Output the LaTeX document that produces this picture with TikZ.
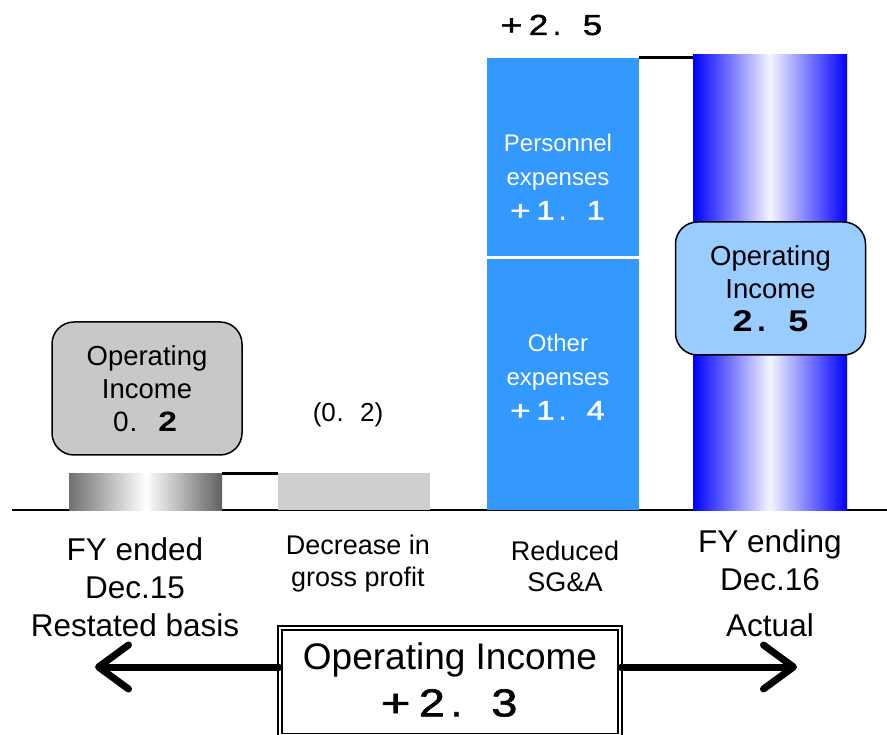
\documentclass[tikz,border=0pt]{standalone}
\usepackage{fontspec}
\setmainfont{Liberation Sans}
\newfontfamily\dig[FakeBold=1.5]{Liberation Sans}
\usetikzlibrary{arrows.meta}
\definecolor{barblue}{HTML}{3399FF}
\definecolor{boxblue}{HTML}{99CCFF}
\definecolor{boxgray}{HTML}{C8C8C8}
\definecolor{bargray}{HTML}{D0CECE}
\newcommand\fsz[2]{\fontsize{#1}{#2}\selectfont}
\newcommand\fwc[1]{\makebox[0.93em][c]{\scalebox{1.2}[1]{#1}}}
\newcommand\fwplus{\makebox[0.93em][c]{\scalebox{1.3}[1]{+}}}
\newcommand\fwp{\makebox[0.93em][l]{\hspace{0.03em}.}}
\begin{document}
\begin{tikzpicture}[x=1pt,y=-1pt,
  bar/.style={inner sep=0pt, outer sep=0pt, draw=none},
  obox/.style={draw=black, line width=1.5pt, rounded corners=22pt, minimum width=190pt, minimum height=133pt, align=center, inner sep=0pt, font=\fsz{27.5}{33}},
  lbl/.style={align=center, inner sep=0pt, text=black},
  link/.style={line width=3pt},
  bigarrow/.style={line width=7pt, line cap=round, -{Straight Barb[length=30pt,width=44pt,round]}}
]
\useasboundingbox (0,0) rectangle (887,735);
% baseline
\coordinate (axL) at (12,510);
\coordinate (axR) at (887,510);
\draw[line width=2pt] (axL) -- (axR);
% bars
\node[bar, minimum width=153pt, minimum height=37pt, left color=black!56, right color=black!62, middle color=white] (b1) at (145.5,491.5) {};
\node[bar, fill=bargray, minimum width=152pt, minimum height=37pt] (b2) at (354,491.5) {};
\node[bar, fill=barblue, minimum width=152pt, minimum height=198pt] (b3a) at (563,157) {};
\node[bar, fill=barblue, minimum width=152pt, minimum height=251pt] (b3b) at (563,384.5) {};
\node[bar, minimum width=154pt, minimum height=455pt, left color=blue, right color=blue, middle color=blue!4] (b4) at (770,282.5) {};
% links
\draw[link] (b1.north east) -- (b2.north west);
\draw[link] (b3a.north east) -- (b3a.north east -| b4.west);
% boxes
\node[obox, fill=boxgray] (g) at (147,388.5) {Operating\\Income\\{\fsz{28}{33}0\fwp\textbf{\fwc{2}}}};
\node[obox, fill=boxblue] (bb) at (770.5,288.5) {Operating\\Income\\{\bfseries\fsz{30}{33}\fwc{2}\fwp\fwc{5}}};
% texts on bars
\node[lbl, text=white, font=\fsz{24}{34}] (pe) at (558,177) {Personnel\\expenses\\{\dig\fsz{27}{34}\fwplus\fwc{1}\fwp\fwc{1}}};
\node[lbl, text=white, font=\fsz{24}{34}] (oe) at (558,377) {Other\\expenses\\{\dig\fsz{27}{34}\fwplus\fwc{1}\fwp\fwc{4}}};
\node[lbl, font=\dig\fsz{29}{30}] (top) at (552,25) {\fwplus\fwc{2}\fwp\fwc{5}};
\node[lbl, font=\fsz{26}{28}] (dec) at (348,415) {(0\fwp 2)};
% labels
\node[lbl, anchor=base, font=\fsz{31.5}{38}] (l1) at (135,636) {FY ended\\Dec.15\\Restated basis};
\node[lbl, anchor=base, font=\fsz{27}{32}] (l2) at (358,586) {Decrease in\\gross profit};
\node[lbl, anchor=base, font=\fsz{27}{31}] (l3) at (565,591) {Reduced\\SG\&A};
\node[lbl, anchor=base, font=\fsz{31.5}{38}] (l4) at (770,636) {FY ending\\Dec.16\\[8pt]Actual};
% total box
\node[draw=black, line width=1.5pt, double=white, double distance=2.5pt, minimum width=340pt, minimum height=107.5pt, inner sep=0pt] (total) at (450,681.75) {};
\node[lbl, font=\fsz{37}{40}] (t1) at (450,660) {Operating Income};
\node[lbl, font=\dig\fsz{39}{40}] (t2) at (450,703) {\fwplus\fwc{2}\fwp\fwc{3}};
% arrows
\coordinate (arrL) at (95,667);
\coordinate (arrR) at (797,667);
\draw[bigarrow] (total.west |- arrL) -- (arrL);
\draw[bigarrow] (total.east |- arrR) -- (arrR);
\end{tikzpicture}
\end{document}
